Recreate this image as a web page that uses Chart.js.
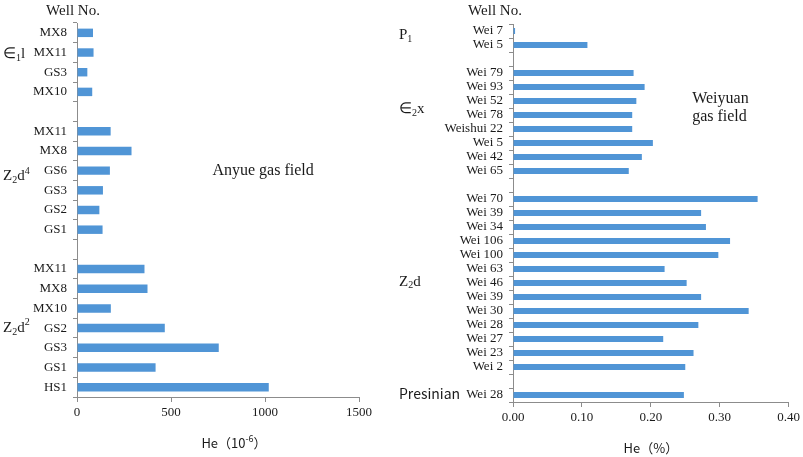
<!DOCTYPE html>
<html>
<head>
    <title>He content of natural gas</title>
    <style type="text/css">
        body { margin: 0; background: #fff; }
        .box { position: absolute; top: 0; height: 457px; }
    </style>
    <script src="https://cdn.jsdelivr.net/npm/chart.js@4.4.1/dist/chart.umd.min.js"></script>
</head>
<body>
    <div class="box" style="left: 0; width: 400px;"><canvas id="anyue"></canvas></div>
    <div class="box" style="left: 390px; width: 413px;"><canvas id="weiyuan"></canvas></div>
    <script>
        // Anyue gas field, He in 10^-6 ('' rows are the gaps between strata)
        var anyueWells = ['MX8', 'MX11', 'GS3', 'MX10', '',
            'MX11', 'MX8', 'GS6', 'GS3', 'GS2', 'GS1', '',
            'MX11', 'MX8', 'MX10', 'GS2', 'GS3', 'GS1', 'HS1'];
        var anyueHe = [85, 88, 55, 81, null,
            179, 290, 175, 138, 119, 136, null,
            359, 375, 180, 467, 754, 418, 1020];
        var anyueTicks = [0, 500, 1000, 1500];

        // Weiyuan gas field, He in %
        var weiyuanWells = ['Wei 7', 'Wei 5', '',
            'Wei 79', 'Wei 93', 'Wei 52', 'Wei 78', 'Weishui 22', 'Wei 5', 'Wei 42', 'Wei 65', '',
            'Wei 70', 'Wei 39', 'Wei 34', 'Wei 106', 'Wei 100', 'Wei 63', 'Wei 46', 'Wei 39',
            'Wei 30', 'Wei 28', 'Wei 27', 'Wei 23', 'Wei 2', '',
            'Wei 28'];
        var weiyuanHe = [0.003, 0.108, null,
            0.175, 0.191, 0.179, 0.173, 0.173, 0.203, 0.187, 0.168, null,
            0.355, 0.273, 0.280, 0.315, 0.298, 0.220, 0.252, 0.273,
            0.342, 0.269, 0.218, 0.262, 0.250, null,
            0.248];
        var weiyuanTicks = [0, 0.1, 0.2, 0.3, 0.4];

        // strata names: text runs (n = normal, sub, sup) and the row they sit on
        var anyueStrata = [
            { runs: [['∈', 'n'], ['1', 'sub'], ['l', 'n']], row: 1.1 },
            { runs: [['Z', 'n'], ['2', 'sub'], ['d', 'n'], ['4', 'sup']], row: 7.3 },
            { runs: [['Z', 'n'], ['2', 'sub'], ['d', 'n'], ['2', 'sup']], row: 15 }
        ];
        var weiyuanStrata = [
            { runs: [['P', 'n'], ['1', 'sub']], row: 0.3 },
            { runs: [['∈', 'n'], ['2', 'sub'], ['x', 'n']], row: 5.6 },
            { runs: [['Z', 'n'], ['2', 'sub'], ['d', 'n']], row: 17.9 }
        ];

        var BAR = '#5095d6';
        var AXIS = '#8c8c8c';
        var SERIF = '"Liberation Serif", "Times New Roman", serif';
        var SANS = '"Noto Sans CJK SC", "Noto Sans", sans-serif';

        function drawRuns(ctx, runs, x, y, size) {
            var cx = x;
            runs.forEach(function(r) {
                var small = r[1] !== 'n';
                ctx.font = (small ? Math.round(size * 0.68) : size) + 'px ' + SERIF;
                var dy = r[1] === 'sub' ? size * 0.28 : (r[1] === 'sup' ? -size * 0.36 : 0);
                ctx.fillText(r[0], cx, y + dy);
                cx += ctx.measureText(r[0]).width;
            });
        }

        function makeChart(id, wells, values, ticks, xmax, fmt, extra) {
            var textPlugin = {
                id: 'texts',
                afterDraw: function(chart) {
                    var ctx = chart.ctx, area = chart.chartArea;
                    var xs = chart.scales.x, ys = chart.scales.y;
                    ctx.save();
                    ctx.fillStyle = '#1a1a1a';
                    ctx.textBaseline = 'middle';

                    // "Well No." above the category axis
                    ctx.textAlign = 'center';
                    ctx.font = '15px ' + SERIF;
                    ctx.fillText('Well No.', area.left + extra.wellDx, 11);

                    // strata names
                    ctx.textAlign = 'left';
                    extra.strata.forEach(function(s) {
                        drawRuns(ctx, s.runs, extra.strataX, ys.getPixelForValue(s.row), 15);
                    });
                    if (extra.presinian) {
                        ctx.font = '14px ' + SANS;
                        ctx.fillText('Presinian', extra.strataX, ys.getPixelForValue(extra.presinian) - 1);
                    }

                    // field name
                    ctx.font = '16px ' + SERIF;
                    ctx.textAlign = extra.field.align;
                    extra.field.lines.forEach(function(t, i) {
                        ctx.fillText(t, xs.getPixelForValue(extra.field.x),
                            ys.getPixelForValue(extra.field.row) + (i - (extra.field.lines.length - 1) / 2) * 18);
                    });

                    // axis title with superscript
                    ctx.textAlign = 'left';
                    ctx.font = '13px ' + SANS;
                    var parts = extra.title;
                    var w = 0;
                    parts.forEach(function(p) {
                        ctx.font = (p[1] === 'sup' ? 9 : 13) + 'px ' + SANS;
                        w += ctx.measureText(p[0]).width;
                    });
                    var tx = (area.left + area.right) / 2 + extra.titleDx - w / 2;
                    var ty = chart.height - extra.titleDy;
                    parts.forEach(function(p) {
                        ctx.font = (p[1] === 'sup' ? 9 : 13) + 'px ' + SANS;
                        ctx.fillText(p[0], tx, p[1] === 'sup' ? ty - 4 : ty);
                        tx += ctx.measureText(p[0]).width;
                    });
                    ctx.restore();
                }
            };

            return new Chart(document.getElementById(id).getContext('2d'), {
                type: 'bar',
                data: {
                    labels: wells,
                    datasets: [{
                        data: values,
                        backgroundColor: BAR,
                        borderWidth: 0,
                        categoryPercentage: 1,
                        barPercentage: 0.43
                    }]
                },
                options: {
                    indexAxis: 'y',
                    responsive: true,
                    maintainAspectRatio: false,
                    animation: false,
                    layout: { padding: extra.padding },
                    plugins: { legend: { display: false }, tooltip: { enabled: false } },
                    scales: {
                        y: {
                            type: 'category',
                            grid: { offset: true, drawOnChartArea: false, tickLength: 4, color: AXIS },
                            border: { color: AXIS },
                            ticks: {
                                autoSkip: false,
                                padding: 6,
                                color: '#1a1a1a',
                                font: { family: SERIF, size: 13 }
                            },
                            afterFit: function(s) { s.width = extra.yWidth; }
                        },
                        x: {
                            min: 0,
                            max: xmax,
                            grid: { drawOnChartArea: false, tickLength: 5, color: AXIS },
                            border: { color: AXIS },
                            afterBuildTicks: function(s) {
                                s.ticks = ticks.map(function(v) { return { value: v }; });
                            },
                            ticks: {
                                padding: 3,
                                color: '#1a1a1a',
                                font: { family: SERIF, size: 13 },
                                callback: fmt
                            },
                            afterFit: function(s) { s.height = extra.xHeight; }
                        }
                    }
                },
                plugins: [textPlugin]
            });
        }

        makeChart('anyue', anyueWells, anyueHe, anyueTicks, 1500,
            function(v) { return String(v); },
            {
                padding: { top: 23, right: 41, left: 0, bottom: 0 },
                yWidth: 77, xHeight: 60,
                wellDx: -4,
                strataX: 3,
                strata: anyueStrata,
                field: { lines: ['Anyue gas field'], x: 990, row: 7, align: 'center' },
                title: [['He（10', 'n'], ['-6', 'sup'], ['）', 'n']],
                titleDx: 16, titleDy: 14
            });

        makeChart('weiyuan', weiyuanWells, weiyuanHe, weiyuanTicks, 0.4,
            function(v) { return Number(v).toFixed(2); },
            {
                padding: { top: 24, right: 13, left: 0, bottom: 0 },
                yWidth: 123, xHeight: 55,
                wellDx: -18,
                strataX: 9,
                strata: weiyuanStrata,
                presinian: 26,
                field: { lines: ['Weiyuan', 'gas field'], x: 0.26, row: 5.45, align: 'left' },
                title: [['He（%）', 'n']],
                titleDx: 0, titleDy: 9
            });
    </script>
</body>
</html>
